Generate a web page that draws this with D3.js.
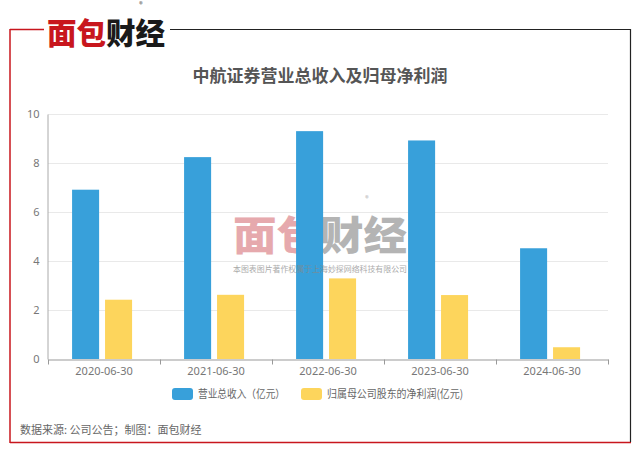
<!DOCTYPE html>
<html><head><meta charset="utf-8">
<script src="https://cdn.jsdelivr.net/npm/d3@7"></script>
<style>
body{margin:0;background:#fff;}
svg{display:block;font-family:"Noto Sans CJK SC","Noto Sans",sans-serif;}
</style></head>
<body>
<svg id="c" width="640" height="453"></svg>
<script>
const categories = ["2020-06-30","2021-06-30","2022-06-30","2023-06-30","2024-06-30"];
const seriesNames = ["营业总收入（亿元）","归属母公司股东的净利润(亿元)"];
const revenue = [6.91, 8.24, 9.30, 8.92, 4.52];
const netProfit = [2.42, 2.62, 3.29, 2.61, 0.48];
const yTicks = [0, 2, 4, 6, 8, 10];
const colors = ["#38a0da", "#fdd55c"];
const title = "中航证券营业总收入及归母净利润";
const footer = "数据来源: 公司公告；制图：面包财经";

const svg = d3.select("#c");
const red = "#c8161d";

// frame
svg.append("line").attr("x1",10).attr("x2",44).attr("y1",29.5).attr("y2",29.5).attr("stroke",red).attr("stroke-width",1.5);
svg.append("line").attr("x1",10).attr("x2",10).attr("y1",29).attr("y2",443).attr("stroke",red).attr("stroke-width",1.5);
svg.append("line").attr("x1",10).attr("x2",631).attr("y1",442.5).attr("y2",442.5).attr("stroke",red).attr("stroke-width",1.5);
svg.append("line").attr("x1",170).attr("x2",630.5).attr("y1",29.5).attr("y2",29.5).attr("stroke","#222").attr("stroke-width",1.2);
svg.append("line").attr("x1",630.5).attr("x2",630.5).attr("y1",29).attr("y2",442).attr("stroke","#222").attr("stroke-width",1.2);

// logo
const logo = svg.append("text").attr("x",47).attr("y",44).attr("font-size",30).attr("font-weight",900)
  .attr("textLength",118).attr("lengthAdjust","spacingAndGlyphs");
logo.append("tspan").attr("fill",red).text("面包");
logo.append("tspan").attr("fill","#1a1a1a").text("财经");
svg.append("text").attr("x",141).attr("y",7).attr("font-size",7).attr("fill","#333").attr("text-anchor","middle").text("®");

// title
svg.append("text").attr("x",320).attr("y",82).attr("text-anchor","middle").attr("font-size",17)
  .attr("font-weight",700).attr("fill","#555").text(title);

const m = {l:48, r:608, t:114, b:359};
const x0 = d3.scaleBand().domain(categories).range([m.l, m.r]).padding(0);
const y = d3.scaleLinear().domain([0,10]).range([m.b, m.t]);
const grpOff = x0.bandwidth()*0.215;
const x1 = d3.scaleBand().domain(seriesNames).range([0, 60]).paddingInner(0.18).paddingOuter(0);

// grid
svg.append("g").selectAll("line").data(yTicks.filter(d=>d>0)).join("line")
  .attr("x1",m.l).attr("x2",m.r).attr("y1",d=>Math.round(y(d))+0.5).attr("y2",d=>Math.round(y(d))+0.5)
  .attr("stroke","#e9e9e9").attr("stroke-width",1);

// watermark (logo under bars)
const wt = svg.append("text").attr("x",233).attr("y",250).attr("font-size",40).attr("font-weight",900)
  .attr("textLength",174).attr("lengthAdjust","spacingAndGlyphs");
wt.append("tspan").attr("fill","#e6a9ad").text("面包");
wt.append("tspan").attr("fill","#b4b4b4").text("财经");
svg.append("text").attr("x",367).attr("y",201).attr("font-size",7).attr("fill","#aaa").attr("text-anchor","middle").text("®");

// bars
const data = categories.map((c,i)=>({c, vals:[revenue[i], netProfit[i]]}));
const g = svg.append("g").selectAll("g").data(data).join("g")
  .attr("transform", d=>`translate(${x0(d.c)+grpOff},0)`);
g.selectAll("rect").data(d=>d.vals.map((v,j)=>({v, s:seriesNames[j], j}))).join("rect")
  .attr("x", d=>x1(d.s)).attr("width", x1.bandwidth())
  .attr("y", d=>y(d.v)).attr("height", d=>m.b - y(d.v))
  .attr("fill", d=>colors[d.j]);

// watermark small text (over bars)
svg.append("text").attr("x",320).attr("y",272).attr("text-anchor","middle").attr("font-size",8.5)
  .attr("fill","#888").attr("opacity",0.7).attr("textLength",174).attr("lengthAdjust","spacingAndGlyphs")
  .text("本图表图片著作权属于上海妙探网络科技有限公司");

// y axis
const yAxis = svg.append("g").attr("transform",`translate(${m.l - 0.5},0)`)
  .call(d3.axisLeft(y).tickValues(yTicks).tickSize(0).tickPadding(8));
yAxis.select(".domain").attr("stroke","#aaa");
yAxis.selectAll("text").attr("fill","#777").attr("font-size",11).attr("font-family","Noto Sans, sans-serif");

// x axis
const xAxis = svg.append("g").attr("transform",`translate(0,${m.b + 0.5})`)
  .call(d3.axisBottom(x0).tickSize(0).tickPadding(8));
xAxis.select(".domain").attr("stroke","#999");
xAxis.selectAll("text").attr("fill","#777").attr("font-size",11).attr("font-family","Noto Sans, sans-serif");
const boundaries = categories.map(c=>x0(c)).concat([m.r]);
xAxis.selectAll("line.b").data(boundaries).join("line").attr("class","b")
  .attr("x1",d=>Math.round(d)+0.5).attr("x2",d=>Math.round(d)+0.5).attr("y1",0).attr("y2",5).attr("stroke","#999");

// legend
const leg = svg.append("g");
const legX = [172, 301];
const legLen = [87, 136];
seriesNames.forEach((s,i)=>{
  leg.append("rect").attr("x",legX[i]).attr("y",388).attr("width",21).attr("height",12).attr("rx",3).attr("fill",colors[i]);
  leg.append("text").attr("x",legX[i]+26).attr("y",398).attr("font-size",11).attr("fill","#666")
    .attr("textLength",legLen[i]).attr("lengthAdjust","spacingAndGlyphs").text(s);
});

// footer
svg.append("text").attr("x",20).attr("y",434).attr("font-size",11).attr("fill","#666").text(footer);
</script>
</body></html>
